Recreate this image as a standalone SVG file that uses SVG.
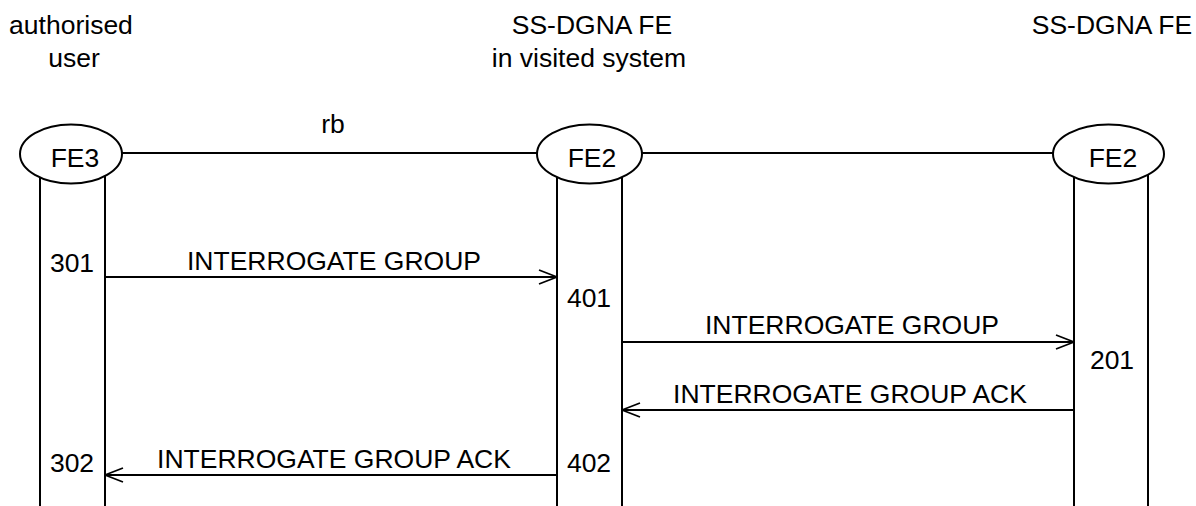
<svg xmlns="http://www.w3.org/2000/svg" width="1196" height="506" viewBox="0 0 1196 506">
<style>
text{font-family:"Liberation Sans",Arial,sans-serif;font-size:26.5px;fill:#000;text-anchor:middle}
.ln{stroke:#000;stroke-width:2;fill:none}
.el{stroke:#000;stroke-width:2;fill:#fff}
.ar{stroke:#000;stroke-width:2;fill:none}
</style>
<defs>
<marker id="oh" viewBox="0 0 20 16" refX="19" refY="8" markerWidth="20" markerHeight="16" markerUnits="userSpaceOnUse" orient="auto">
<path d="M1,1 L19,8 L1,15" fill="none" stroke="#000" stroke-width="1.8"/>
</marker>
</defs>
<g id="headers">
<text x="71" y="34">authorised</text>
<text x="74" y="67">user</text>
<text x="592" y="34">SS-DGNA FE</text>
<text x="589" y="67">in visited system</text>
<text x="1112" y="34">SS-DGNA FE</text>
<text x="333" y="133">rb</text>
</g>
<g id="connectors">
<line class="ln" x1="122" y1="153" x2="537" y2="153"/>
<line class="ln" x1="642" y1="153" x2="1053" y2="153"/>
<line class="ar" x1="105" y1="277" x2="557" y2="277" marker-end="url(#oh)"/>
<line class="ar" x1="622" y1="342" x2="1074" y2="342" marker-end="url(#oh)"/>
<line class="ar" x1="1074" y1="410" x2="622" y2="410" marker-end="url(#oh)"/>
<line class="ar" x1="557" y1="475" x2="105" y2="475" marker-end="url(#oh)"/>
</g>
<g id="node-fe3">
<line class="ln" x1="40" y1="153" x2="40" y2="506"/>
<line class="ln" x1="105" y1="153" x2="105" y2="506"/>
<ellipse class="el" cx="71" cy="154" rx="51" ry="29.5"/>
<text x="75" y="167">FE3</text>
</g>
<g id="node-fe2-visited">
<line class="ln" x1="557" y1="153" x2="557" y2="506"/>
<line class="ln" x1="622" y1="153" x2="622" y2="506"/>
<ellipse class="el" cx="589.5" cy="154" rx="52.5" ry="29.5"/>
<text x="592" y="167">FE2</text>
</g>
<g id="node-fe2">
<line class="ln" x1="1074" y1="153" x2="1074" y2="506"/>
<line class="ln" x1="1148" y1="153" x2="1148" y2="506"/>
<ellipse class="el" cx="1108.5" cy="154" rx="55.5" ry="29.5"/>
<text x="1113" y="167">FE2</text>
</g>
<g id="labels">
<text x="334" y="270">INTERROGATE GROUP</text>
<text x="72" y="272">301</text>
<text x="589" y="307">401</text>
<text x="852" y="334">INTERROGATE GROUP</text>
<text x="1112" y="369">201</text>
<text x="850" y="403">INTERROGATE GROUP ACK</text>
<text x="334" y="468">INTERROGATE GROUP ACK</text>
<text x="72" y="472">302</text>
<text x="589" y="472">402</text>
</g>
</svg>
